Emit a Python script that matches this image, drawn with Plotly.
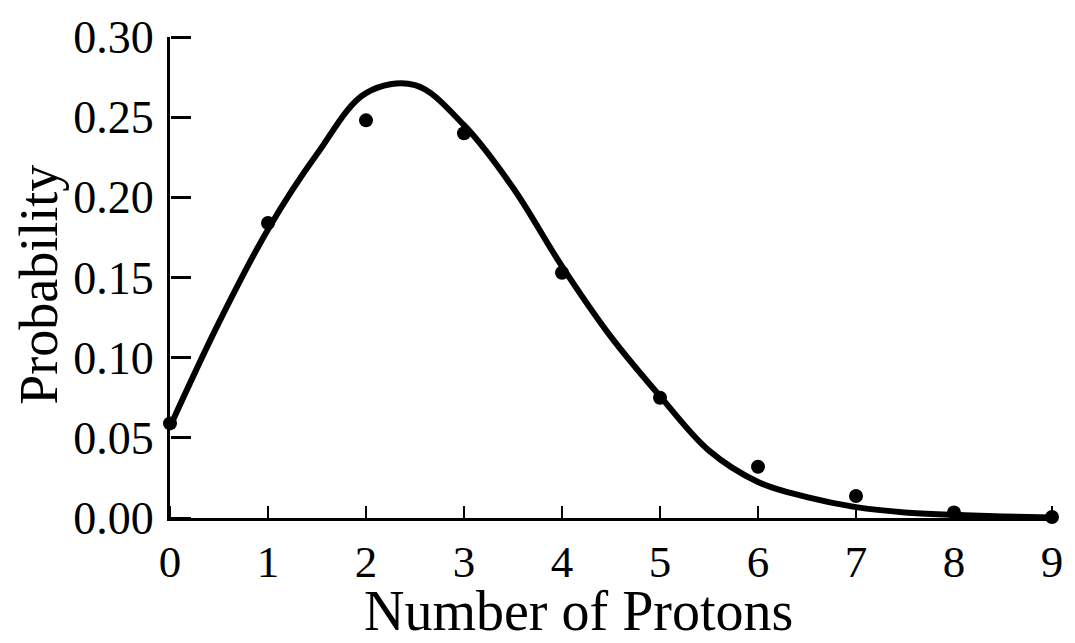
import plotly.graph_objects as go

# Observed proton-number probabilities
protons = [0, 1, 2, 3, 4, 5, 6, 7, 8, 9]
prob_observed = [0.059, 0.184, 0.248, 0.240, 0.153, 0.075, 0.032, 0.0137, 0.0034, 0.0006]

# Smooth model curve
fit_x = [0, 0.5, 1, 1.5, 2, 2.5, 3, 3.5, 4, 4.5, 5, 5.5, 6, 6.5, 7, 7.5, 8, 8.5, 9]
fit_y = [0.057, 0.122, 0.180, 0.227, 0.265, 0.270, 0.245, 0.206, 0.157, 0.113,
         0.076, 0.042, 0.0225, 0.013, 0.0068, 0.0035, 0.002, 0.001, 0.0003]

y_ticks = [0.00, 0.05, 0.10, 0.15, 0.20, 0.25, 0.30]
y_tick_labels = ["0.00", "0.05", "0.10", "0.15", "0.20", "0.25", "0.30"]

FONT = "Liberation Serif"
X_RANGE = [0, 9]
Y_RANGE = [0, 0.30]

fig = go.Figure()
fig.add_trace(go.Scatter(
    x=fit_x, y=fit_y, mode="lines",
    line=dict(color="black", width=6, shape="spline", smoothing=1.0),
    cliponaxis=False, hoverinfo="skip",
))
fig.add_trace(go.Scatter(
    x=protons, y=prob_observed, mode="markers",
    marker=dict(color="black", size=14),
    cliponaxis=False,
))

fig.update_layout(
    width=1075, height=643,
    margin=dict(l=170, r=17, t=32, b=125),
    paper_bgcolor="white", plot_bgcolor="white",
    showlegend=False,
    font=dict(family=FONT, color="black"),
    # main axes: lines and labels
    xaxis=dict(
        range=X_RANGE, tickvals=protons, ticktext=[str(p) for p in protons],
        ticks="", showline=True, linecolor="black", linewidth=3,
        showgrid=False, zeroline=False,
        tickfont=dict(family=FONT, size=45, color="black"),
        ticklabelstandoff=2,
    ),
    yaxis=dict(
        range=Y_RANGE, tickvals=y_ticks, ticktext=y_tick_labels,
        ticks="", showline=True, linecolor="black", linewidth=3,
        showgrid=False, zeroline=False,
        tickfont=dict(family=FONT, size=46, color="black"),
        ticklabelstandoff=4,
    ),
    # companion axes pinned to the same edges so the tick marks point into the plot
    xaxis2=dict(
        overlaying="x", anchor="free", position=0, side="top",
        range=X_RANGE, tickvals=protons, ticks="outside", ticklen=12,
        tickwidth=2, tickcolor="black", showticklabels=False,
        showline=False, showgrid=False, zeroline=False,
    ),
    yaxis2=dict(
        overlaying="y", anchor="free", position=0, side="right",
        range=Y_RANGE, tickvals=y_ticks, ticks="outside", ticklen=20,
        tickwidth=3, tickcolor="black", showticklabels=False,
        showline=False, showgrid=False, zeroline=False,
    ),
    annotations=[
        dict(text="Number of Protons", xref="paper", yref="paper",
             x=0.463, y=-0.124, xanchor="center", yanchor="top",
             showarrow=False, font=dict(family=FONT, size=56, color="black")),
        dict(text="Probability", xref="paper", yref="paper",
             x=-0.148, y=0.486, xanchor="center", yanchor="middle",
             textangle=-90, showarrow=False,
             font=dict(family=FONT, size=54, color="black")),
    ],
)

# invisible trace so the companion axes are drawn
fig.add_trace(go.Scatter(x=[None], y=[None], xaxis="x2", yaxis="y2",
                         showlegend=False, hoverinfo="skip"))

fig.write_html("out.html")
